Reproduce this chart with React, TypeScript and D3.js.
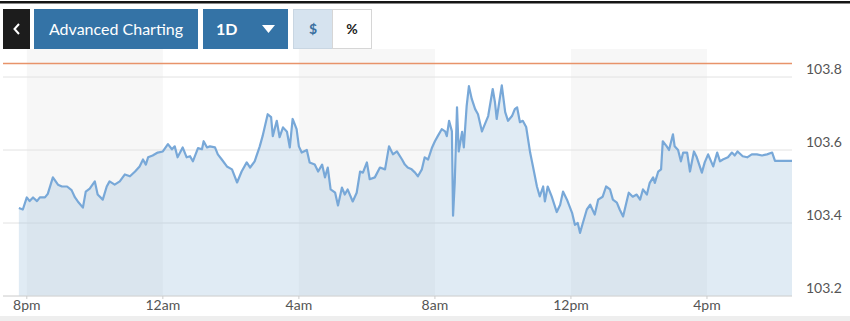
import React from "react";
import * as d3 from "d3";

// Minutes after 8pm (start of session) and index values
const minutes = [
  -14, -7, 0, 5, 11, 18, 23, 32, 37, 46, 55, 62, 71, 79, 85, 90, 99, 104, 111, 120,
  125, 134, 141, 146, 155, 164, 173, 182, 191, 199, 205, 210, 214, 222, 231, 240, 249, 256, 261, 266,
  275, 282, 288, 293, 302, 309, 312, 318, 323, 332, 337, 344, 353, 362, 371, 379, 388, 394, 402, 411,
  416, 425, 431, 434, 441, 446, 452, 459, 464, 469, 476, 480, 485, 494, 499, 508, 514, 521, 526, 531,
  536, 544, 549, 556, 561, 566, 575, 582, 588, 593, 600, 605, 614, 623, 632, 639, 646, 653, 662, 667,
  672, 679, 685, 690, 697, 702, 708, 715, 720, 725, 732, 738, 741, 745, 750, 752, 755, 759, 762, 768,
  771, 776, 780, 785, 791, 796, 803, 808, 814, 822, 826, 829, 838, 844, 849, 856, 861, 865, 870, 875,
  881, 888, 893, 900, 905, 911, 914, 919, 926, 935, 941, 946, 953, 962, 967, 972, 976, 981, 988, 994,
  1002, 1008, 1016, 1022, 1029, 1034, 1041, 1046, 1052, 1059, 1062, 1069, 1076, 1082, 1087, 1094, 1099, 1105, 1108, 1114,
  1119, 1122, 1129, 1133, 1140, 1143, 1149, 1154, 1158, 1165, 1170, 1177, 1182, 1191, 1196, 1202, 1211, 1218, 1223, 1228,
  1237, 1244, 1249, 1254, 1263, 1271, 1279, 1288, 1297, 1306, 1315, 1320, 1350,
];

const values = [
  103.441, 103.437, 103.47, 103.46, 103.47, 103.46, 103.47, 103.47, 103.48, 103.525, 103.505, 103.5, 103.5, 103.49, 103.47, 103.459, 103.442, 103.486, 103.494, 103.514,
  103.478, 103.464, 103.5, 103.514, 103.505, 103.514, 103.533, 103.528, 103.541, 103.555, 103.574, 103.56, 103.58, 103.585, 103.593, 103.596, 103.616, 103.602, 103.61, 103.58,
  103.607, 103.58, 103.583, 103.569, 103.605, 103.602, 103.624, 103.607, 103.61, 103.607, 103.588, 103.574, 103.555, 103.547, 103.511, 103.541, 103.566, 103.552, 103.569, 103.61,
  103.638, 103.698, 103.69, 103.638, 103.68, 103.635, 103.662, 103.65, 103.607, 103.685, 103.657, 103.61, 103.593, 103.6, 103.566, 103.56, 103.541, 103.56, 103.525, 103.552,
  103.492, 103.483, 103.448, 103.497, 103.478, 103.492, 103.459, 103.483, 103.541, 103.538, 103.566, 103.52, 103.525, 103.552, 103.547, 103.61, 103.588, 103.596, 103.574, 103.56,
  103.552, 103.547, 103.538, 103.528, 103.547, 103.58, 103.574, 103.607, 103.624, 103.638, 103.657, 103.651, 103.638, 103.68, 103.651, 103.42, 103.511, 103.717, 103.596, 103.65,
  103.607, 103.72, 103.775, 103.74, 103.712, 103.698, 103.651, 103.67, 103.693, 103.767, 103.73, 103.685, 103.777, 103.704, 103.68, 103.693, 103.712, 103.717, 103.676, 103.68,
  103.663, 103.593, 103.555, 103.5, 103.473, 103.5, 103.459, 103.5, 103.473, 103.43, 103.45, 103.486, 103.464, 103.428, 103.395, 103.4, 103.373, 103.4, 103.437, 103.45,
  103.423, 103.464, 103.472, 103.5, 103.492, 103.464, 103.456, 103.437, 103.418, 103.464, 103.483, 103.472, 103.478, 103.464, 103.492, 103.478, 103.51, 103.525, 103.51, 103.541,
  103.547, 103.624, 103.61, 103.6, 103.643, 103.61, 103.6, 103.569, 103.593, 103.593, 103.541, 103.596, 103.58, 103.538, 103.566, 103.588, 103.555, 103.593, 103.569, 103.574,
  103.58, 103.593, 103.585, 103.596, 103.583, 103.58, 103.588, 103.588, 103.585, 103.588, 103.593, 103.57, 103.57,
];

const previousClose = 103.837;
const yTicks = [103.2, 103.4, 103.6, 103.8];
const tickHours = [0, 4, 8, 12, 16, 20]; // hours after 8pm
const tickLabels = ["8pm", "12am", "4am", "8am", "12pm", "4pm"];
const domainMinutes = [-42, 1350];

const W = 850;
const H = 321;
const base = new Date(2024, 0, 1, 20, 0, 0);
const at = (m: number) => new Date(base.getTime() + m * 60000);

export default function App() {
  const x = d3.scaleTime().domain([at(domainMinutes[0]), at(domainMinutes[1])]).range([3, 792]);
  const y = d3.scaleLinear().domain([103.2, 103.8]).range([296, 77]);
  const data = minutes.map((m, i) => ({ t: at(m), v: values[i] }));
  const line = d3.line<any>().x((d) => x(d.t)).y((d) => y(d.v));
  const area = d3.area<any>().x((d) => x(d.t)).y0(y(103.2)).y1((d) => y(d.v));

  const bands = [0, 8, 16].map((h) => [x(at(h * 60)), x(at((h + 4) * 60))]);
  const blue = "#3473a6";
  const font = "Lato, 'Open Sans', sans-serif";

  return (
    <svg width={W} height={H} style={{ position: "absolute", left: 0, top: 0, background: "#fff" }}>
      <rect x={0} y={0} width={W} height={H} fill="#fff" />
      {/* alternating time bands */}
      {bands.map(([a, b], i) => (
        <rect key={i} x={a} y={49} width={b - a} height={296 - 49} fill="#f7f7f7" />
      ))}
      {/* grid */}
      {yTicks.map((t) => (
        <line key={t} x1={3} x2={792} y1={y(t)} y2={y(t)} stroke="#e2e2e2" strokeWidth={1} />
      ))}
      <path d={area(data) || ""} fill="rgb(160,195,222)" fillOpacity={0.33} />
      <path d={line(data) || ""} fill="none" stroke="#78a8d8" strokeWidth={2.2} strokeLinejoin="round" />
      <line x1={3} x2={792} y1={y(previousClose)} y2={y(previousClose)} stroke="#e8936a" strokeWidth={1.6} />
      {/* x axis */}
      <line x1={3} x2={792} y1={296} y2={296} stroke="#d8d8d8" />
      {tickHours.map((h, i) => (
        <g key={h} transform={`translate(${x(at(h * 60))},0)`}>
          <line y1={296} y2={299} stroke="#ccc" />
          <text y={310} textAnchor="middle" fontFamily={font} fontSize={14} fill="#555">
            {tickLabels[i]}
          </text>
        </g>
      ))}
      {yTicks.map((t) => (
        <text key={t} x={806} y={y(t) - 3} fontFamily={font} fontSize={14} fill="#555">
          {t.toFixed(1)}
        </text>
      ))}
      <rect x={0} y={316} width={W} height={5} fill="#eeeeee" />
      {/* top bar */}
      <rect x={0} y={1} width={W} height={2.5} fill="#151515" />
      <rect x={3} y={9} width={27} height={40} fill="#1c1c1c" />
      <path d="M19,24 L14.5,29 L19,34" fill="none" stroke="#fff" strokeWidth={2} />
      <rect x={34} y={9} width={164} height={40} fill={blue} />
      <text x={116} y={35} textAnchor="middle" fontFamily={font} fontSize={16} fill="#fff">
        Advanced Charting
      </text>
      <rect x={203} y={9} width={85} height={40} fill={blue} />
      <text x={216} y={35} fontFamily={font} fontSize={16} fontWeight={700} fill="#fff">
        1D
      </text>
      <path d="M262,25 L275,25 L268.5,33 Z" fill="#fff" />
      <rect x={293.5} y={9.5} width={39} height={39} fill="#d6e3ef" stroke="#c9d6e2" />
      <text x={313} y={34} textAnchor="middle" fontFamily={font} fontSize={14} fontWeight={700} fill="#3a6fa0">
        $
      </text>
      <rect x={332.5} y={9.5} width={39} height={39} fill="#fff" stroke="#d6d6d6" />
      <text x={352} y={34} textAnchor="middle" fontFamily={font} fontSize={14} fontWeight={700} fill="#222">
        %
      </text>
    </svg>
  );
}
